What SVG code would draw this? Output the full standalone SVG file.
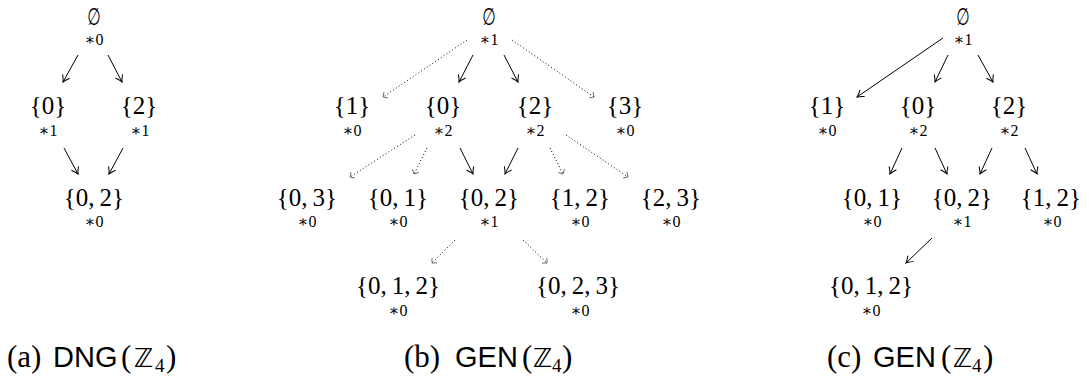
<svg xmlns="http://www.w3.org/2000/svg" width="1089" height="380" viewBox="0 0 1089 380">
<style>
text{font-family:"Liberation Serif","DejaVu Serif",serif;fill:#000;text-anchor:middle}
.n{font-size:25px}
.l{font-size:16px}
.e{font-family:"DejaVu Sans",sans-serif;font-size:22px}
.cap{font-size:31px;text-anchor:start}
.sans{font-family:"Liberation Sans","DejaVu Sans",sans-serif;font-size:29px}
.z{font-family:"DejaVu Sans",sans-serif;font-size:26px}
.sub{font-size:19px}
.s{fill:none;stroke:#000;stroke-width:1;marker-end:url(#ah)}
.d{fill:none;stroke:#000;stroke-width:1;stroke-dasharray:1 2.4;marker-end:url(#dh)}
</style>
<defs>
<marker id="ah" markerUnits="userSpaceOnUse" markerWidth="12" markerHeight="12" refX="0" refY="0" viewBox="-8 -6 10 12" orient="auto">
<path d="M-6.5,-4 Q-2.5,-1 0,0 Q-2.5,1 -6.5,4" fill="none" stroke="#000" stroke-width="1"/>
</marker>
<marker id="dh" markerUnits="userSpaceOnUse" markerWidth="10" markerHeight="10" refX="0" refY="0" viewBox="-6 -5 8 10" orient="auto">
<path d="M-3.5,-3.5 L0,0 L-3.5,3.5" fill="none" stroke="#555" stroke-width="0.8"/>
</marker>
</defs>
<rect width="1089" height="380" fill="#fff"/>

<g id="connectors">
<line class="s" x1="78" y1="55" x2="63" y2="82"/>
<line class="s" x1="108" y1="55" x2="122" y2="82"/>
<line class="s" x1="64" y1="148" x2="78" y2="174"/>
<line class="s" x1="123" y1="148" x2="109" y2="174"/>
<line class="d" x1="467" y1="40" x2="383" y2="97"/>
<line class="d" x1="512" y1="40" x2="594" y2="97"/>
<line class="s" x1="473" y1="55" x2="459" y2="82"/>
<line class="s" x1="504" y1="55" x2="518" y2="82"/>
<line class="d" x1="415" y1="135" x2="350" y2="177"/>
<line class="d" x1="427" y1="148" x2="414" y2="174"/>
<line class="s" x1="460" y1="148" x2="473" y2="174"/>
<line class="s" x1="518" y1="148" x2="505" y2="174"/>
<line class="d" x1="550" y1="148" x2="563" y2="174"/>
<line class="d" x1="566" y1="135" x2="628" y2="177"/>
<line class="d" x1="455" y1="240" x2="432" y2="263"/>
<line class="d" x1="523" y1="240" x2="547" y2="263"/>
<line class="s" x1="943" y1="38" x2="857" y2="97"/>
<line class="s" x1="948" y1="55" x2="935" y2="82"/>
<line class="s" x1="978" y1="55" x2="993" y2="82"/>
<line class="s" x1="902" y1="148" x2="890" y2="174"/>
<line class="s" x1="935" y1="148" x2="947" y2="174"/>
<line class="s" x1="992" y1="148" x2="980" y2="174"/>
<line class="s" x1="1025" y1="148" x2="1037" y2="174"/>
<line class="s" x1="932" y1="238" x2="906" y2="263"/>
</g>

<!-- panel (a) -->
<g id="a-empty"><text class="e" transform="translate(94,25) scale(0.7,1.09)">∅</text><text class="l" x="94" y="45">∗0</text></g>
<g id="a-0"><text class="n" x="48" y="114">{0}</text><text class="l" x="48" y="136">∗1</text></g>
<g id="a-2"><text class="n" x="139" y="114">{2}</text><text class="l" x="140" y="136">∗1</text></g>
<g id="a-02"><text class="n" x="94" y="206">{0,&#8201;2}</text><text class="l" x="94" y="227">∗0</text></g>

<!-- panel (b) -->
<g id="b-empty"><text class="e" transform="translate(489,25) scale(0.7,1.09)">∅</text><text class="l" x="489" y="45">∗1</text></g>
<g id="b-1"><text class="n" x="352" y="114">{1}</text><text class="l" x="352" y="136">∗0</text></g>
<g id="b-0"><text class="n" x="443" y="114">{0}</text><text class="l" x="443" y="136">∗2</text></g>
<g id="b-2"><text class="n" x="535" y="114">{2}</text><text class="l" x="535" y="136">∗2</text></g>
<g id="b-3"><text class="n" x="625" y="114">{3}</text><text class="l" x="625" y="136">∗0</text></g>
<g id="b-03"><text class="n" x="307" y="206">{0,&#8201;3}</text><text class="l" x="307" y="227">∗0</text></g>
<g id="b-01"><text class="n" x="398" y="206">{0,&#8201;1}</text><text class="l" x="398" y="227">∗0</text></g>
<g id="b-02"><text class="n" x="489" y="206">{0,&#8201;2}</text><text class="l" x="489" y="227">∗1</text></g>
<g id="b-12"><text class="n" x="580" y="206">{1,&#8201;2}</text><text class="l" x="580" y="227">∗0</text></g>
<g id="b-23"><text class="n" x="671" y="206">{2,&#8201;3}</text><text class="l" x="671" y="227">∗0</text></g>
<g id="b-012"><text class="n" x="398" y="294">{0,&#8201;1,&#8201;2}</text><text class="l" x="398" y="316">∗0</text></g>
<g id="b-023"><text class="n" x="578" y="294">{0,&#8201;2,&#8201;3}</text><text class="l" x="580" y="316">∗0</text></g>

<!-- panel (c) -->
<g id="c-empty"><text class="e" transform="translate(963,25) scale(0.7,1.09)">∅</text><text class="l" x="963" y="45">∗1</text></g>
<g id="c-1"><text class="n" x="827" y="114">{1}</text><text class="l" x="827" y="136">∗0</text></g>
<g id="c-0"><text class="n" x="918" y="114">{0}</text><text class="l" x="918" y="136">∗2</text></g>
<g id="c-2"><text class="n" x="1009" y="114">{2}</text><text class="l" x="1009" y="136">∗2</text></g>
<g id="c-01"><text class="n" x="872" y="206">{0,&#8201;1}</text><text class="l" x="872" y="227">∗0</text></g>
<g id="c-02"><text class="n" x="962" y="206">{0,&#8201;2}</text><text class="l" x="962" y="227">∗1</text></g>
<g id="c-12"><text class="n" x="1051" y="206">{1,&#8201;2}</text><text class="l" x="1052" y="227">∗0</text></g>
<g id="c-012"><text class="n" x="871" y="294">{0,&#8201;1,&#8201;2}</text><text class="l" x="871" y="316">∗0</text></g>

<!-- captions -->
<g id="captions">
<text class="cap" y="367"><tspan x="7">(a)</tspan><tspan class="sans" x="53">DNG</tspan><tspan x="121">(</tspan><tspan class="z" x="134">ℤ</tspan><tspan class="sub" x="155" y="372">4</tspan><tspan x="166" y="367">)</tspan></text>
<text class="cap" y="367"><tspan x="404">(b)</tspan><tspan class="sans" x="455">GEN</tspan><tspan x="522">(</tspan><tspan class="z" x="533">ℤ</tspan><tspan class="sub" x="552" y="372">4</tspan><tspan x="562" y="367">)</tspan></text>
<text class="cap" y="367"><tspan x="827">(c)</tspan><tspan class="sans" x="873">GEN</tspan><tspan x="941">(</tspan><tspan class="z" x="953">ℤ</tspan><tspan class="sub" x="972" y="372">4</tspan><tspan x="983" y="367">)</tspan></text>
</g>
</svg>
